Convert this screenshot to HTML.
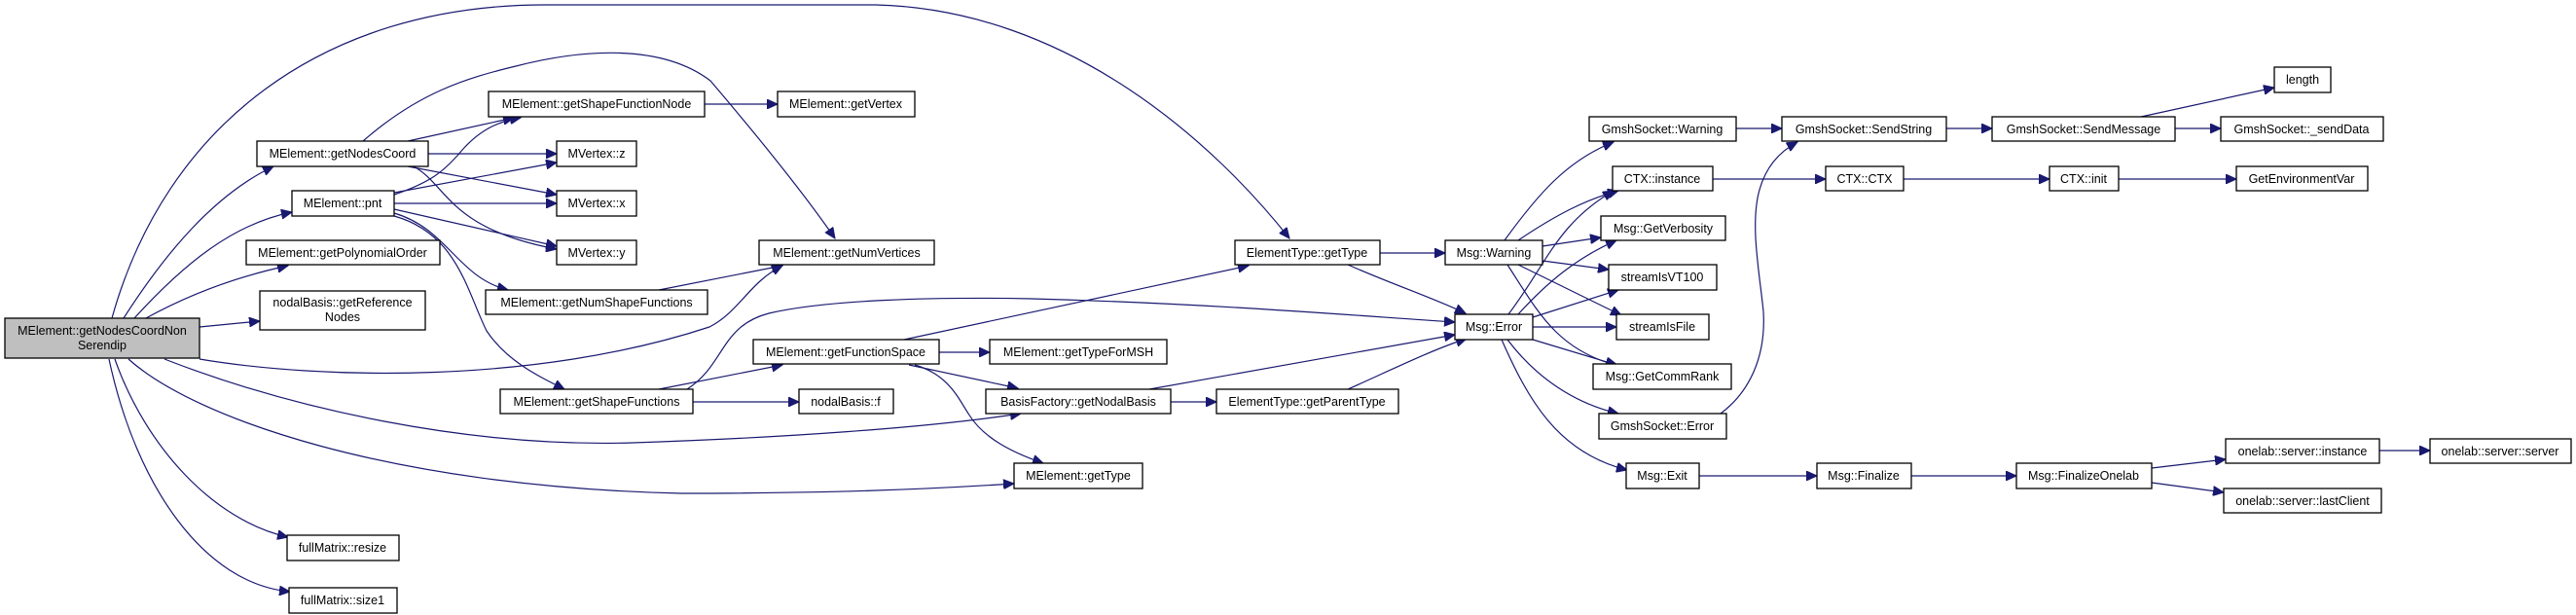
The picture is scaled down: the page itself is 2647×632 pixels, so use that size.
<!DOCTYPE html>
<html><head><meta charset="utf-8"><style>
html,body{margin:0;padding:0;background:#fff;}
svg{display:block;}
text{font-family:"Liberation Sans",Arial,sans-serif;font-size:12.5px;fill:#000;text-anchor:middle;}
.n{fill:#fff;stroke:#000;stroke-width:1.3;}
.e{fill:none;stroke:#191970;stroke-width:1.2;marker-end:url(#a);}
</style></head><body>
<svg width="2647" height="632" viewBox="0 0 2647 632" xmlns="http://www.w3.org/2000/svg">
<defs><marker id="a" markerUnits="userSpaceOnUse" markerWidth="12" markerHeight="10" refX="11" refY="5" orient="auto"><path d="M0,0 L11,5 L0,10 Z" fill="#191970" stroke="#191970"/></marker></defs>
<g>
<path class="e" d="M115,327 C170,130 330,5 560,5 L900,5 C1100,10 1250,150 1325,245"/>
<path class="e" d="M127,327 C170,260 220,200 281,171"/>
<path class="e" d="M138,327 C190,270 240,230 300,218"/>
<path class="e" d="M150,327 C190,305 240,285 296,273"/>
<path class="e" d="M205,336 L267,330"/>
<path class="e" d="M205,369 C330,390 550,395 729,336 C760,320 770,290 804,273"/>
<path class="e" d="M169,369 C300,420 480,460 650,455 C800,450 950,440 1049,425"/>
<path class="e" d="M132,369 C200,430 400,500 700,507 C850,507 950,503 1042,497"/>
<path class="e" d="M118,369 C150,460 220,535 296,552"/>
<path class="e" d="M112,369 C140,500 210,600 298,608"/>
<path class="e" d="M419,145 L528,121"/>
<path class="e" d="M440,158 L572,158"/>
<path class="e" d="M419,171 L572,200"/>
<path class="e" d="M425,171 C460,190 460,235 572,256"/>
<path class="e" d="M373,145 C430,95 480,80 530,68 C600,50 680,45 730,83 C770,130 820,190 858,245"/>
<path class="e" d="M405,200 C450,185 460,170 470,160 C490,135 510,125 535,121"/>
<path class="e" d="M405,198 L572,167"/>
<path class="e" d="M405,209 L572,209"/>
<path class="e" d="M405,215 L572,253"/>
<path class="e" d="M405,219 C460,235 470,285 522,298"/>
<path class="e" d="M405,222 C470,240 480,300 500,340 C520,370 550,385 580,400"/>
<path class="e" d="M677,298 L804,273"/>
<path class="e" d="M724,107 L799,107"/>
<path class="e" d="M677,400 L804,375"/>
<path class="e" d="M712,413 L821,413"/>
<path class="e" d="M706,400 C745,375 740,335 790,322 C850,308 960,305 1060,307 C1250,312 1400,325 1495,331"/>
<path class="e" d="M929,349 L1283,273"/>
<path class="e" d="M965,362 L1017,362"/>
<path class="e" d="M934,375 L1046,399"/>
<path class="e" d="M940,375 C975,385 985,410 995,425 C1010,450 1040,465 1072,476"/>
<path class="e" d="M1203,413 L1250,413"/>
<path class="e" d="M1181,400 L1495,344"/>
<path class="e" d="M1418,260 L1485,260"/>
<path class="e" d="M1385,272 C1430,292 1470,305 1506,322"/>
<path class="e" d="M1385,400 C1430,380 1470,360 1507,348"/>
<path class="e" d="M1546,247 C1580,200 1610,165 1658,146"/>
<path class="e" d="M1560,247 C1600,220 1630,205 1663,196"/>
<path class="e" d="M1585,253 L1645,244"/>
<path class="e" d="M1585,268 L1653,277"/>
<path class="e" d="M1560,272 L1666,324"/>
<path class="e" d="M1549,272 C1580,320 1600,360 1663,376"/>
<path class="e" d="M1550,323 C1590,270 1600,230 1658,196"/>
<path class="e" d="M1560,323 C1590,290 1620,265 1661,247"/>
<path class="e" d="M1575,326 L1663,298"/>
<path class="e" d="M1575,336 L1661,336"/>
<path class="e" d="M1575,349 L1661,375"/>
<path class="e" d="M1549,349 C1580,390 1620,415 1663,425"/>
<path class="e" d="M1543,349 C1570,410 1600,465 1672,483"/>
<path class="e" d="M1768,425 C1795,405 1815,370 1812,320 C1808,280 1798,230 1808,195 C1815,170 1830,155 1847,146"/>
<path class="e" d="M1784,132 L1831,132"/>
<path class="e" d="M1760,184 L1876,184"/>
<path class="e" d="M1956,184 L2106,184"/>
<path class="e" d="M2177,184 L2298,184"/>
<path class="e" d="M2000,132 L2047,132"/>
<path class="e" d="M2235,132 L2282,132"/>
<path class="e" d="M2200,120 L2337,90"/>
<path class="e" d="M1746,489 L1867,489"/>
<path class="e" d="M1964,489 L2072,489"/>
<path class="e" d="M2211,481 L2287,472"/>
<path class="e" d="M2211,496 L2285,506"/>
<path class="e" d="M2445,463 L2497,463"/>
</g>
<g>
<rect x="5" y="327" width="200" height="41" fill="#bfbfbf" stroke="#000" stroke-width="1.3"/>
<text x="105" y="344">MElement::getNodesCoordNon</text><text x="105" y="359">Serendip</text>
<rect class="n" x="264" y="145" width="176" height="26"/><text x="352" y="162">MElement::getNodesCoord</text>
<rect class="n" x="300" y="196" width="105" height="26"/><text x="352" y="213">MElement::pnt</text>
<rect class="n" x="253" y="247" width="199" height="25"/><text x="352" y="264">MElement::getPolynomialOrder</text>
<rect class="n" x="267" y="299" width="170" height="40"/><text x="352" y="315">nodalBasis::getReference</text><text x="352" y="330">Nodes</text>
<rect class="n" x="295" y="550" width="115" height="26"/><text x="352" y="567">fullMatrix::resize</text>
<rect class="n" x="297" y="604" width="111" height="26"/><text x="352" y="621">fullMatrix::size1</text>
<rect class="n" x="502" y="94" width="222" height="26"/><text x="613" y="111">MElement::getShapeFunctionNode</text>
<rect class="n" x="572" y="145" width="82" height="26"/><text x="613" y="162">MVertex::z</text>
<rect class="n" x="572" y="196" width="82" height="26"/><text x="613" y="213">MVertex::x</text>
<rect class="n" x="572" y="247" width="82" height="25"/><text x="613" y="264">MVertex::y</text>
<rect class="n" x="499" y="298" width="228" height="25"/><text x="613" y="315">MElement::getNumShapeFunctions</text>
<rect class="n" x="514" y="400" width="198" height="25"/><text x="613" y="417">MElement::getShapeFunctions</text>
<rect class="n" x="799" y="94" width="141" height="26"/><text x="869" y="111">MElement::getVertex</text>
<rect class="n" x="780" y="247" width="180" height="25"/><text x="870" y="264">MElement::getNumVertices</text>
<rect class="n" x="774" y="349" width="191" height="25"/><text x="869" y="366">MElement::getFunctionSpace</text>
<rect class="n" x="821" y="400" width="97" height="25"/><text x="869" y="417">nodalBasis::f</text>
<rect class="n" x="1269" y="247" width="149" height="25"/><text x="1343" y="264">ElementType::getType</text>
<rect class="n" x="1485" y="247" width="100" height="25"/><text x="1535" y="264">Msg::Warning</text>
<rect class="n" x="1495" y="323" width="80" height="26"/><text x="1535" y="340">Msg::Error</text>
<rect class="n" x="1017" y="349" width="182" height="25"/><text x="1108" y="366">MElement::getTypeForMSH</text>
<rect class="n" x="1013" y="400" width="190" height="25"/><text x="1108" y="417">BasisFactory::getNodalBasis</text>
<rect class="n" x="1250" y="400" width="187" height="25"/><text x="1343" y="417">ElementType::getParentType</text>
<rect class="n" x="1042" y="476" width="132" height="26"/><text x="1108" y="493">MElement::getType</text>
<rect class="n" x="1633" y="120" width="151" height="25"/><text x="1708" y="137">GmshSocket::Warning</text>
<rect class="n" x="1657" y="171" width="103" height="25"/><text x="1708" y="188">CTX::instance</text>
<rect class="n" x="1645" y="222" width="128" height="25"/><text x="1709" y="239">Msg::GetVerbosity</text>
<rect class="n" x="1653" y="272" width="111" height="26"/><text x="1708" y="289">streamIsVT100</text>
<rect class="n" x="1661" y="323" width="95" height="26"/><text x="1708" y="340">streamIsFile</text>
<rect class="n" x="1637" y="374" width="142" height="26"/><text x="1708" y="391">Msg::GetCommRank</text>
<rect class="n" x="1643" y="425" width="131" height="26"/><text x="1708" y="442">GmshSocket::Error</text>
<rect class="n" x="1671" y="476" width="75" height="26"/><text x="1708" y="493">Msg::Exit</text>
<rect class="n" x="2337" y="69" width="58" height="26"/><text x="2366" y="86">length</text>
<rect class="n" x="1831" y="120" width="169" height="25"/><text x="1915" y="137">GmshSocket::SendString</text>
<rect class="n" x="2047" y="120" width="188" height="25"/><text x="2141" y="137">GmshSocket::SendMessage</text>
<rect class="n" x="2282" y="120" width="167" height="25"/><text x="2365" y="137">GmshSocket::_sendData</text>
<rect class="n" x="1876" y="171" width="80" height="25"/><text x="1916" y="188">CTX::CTX</text>
<rect class="n" x="2106" y="171" width="71" height="25"/><text x="2141" y="188">CTX::init</text>
<rect class="n" x="2298" y="171" width="135" height="25"/><text x="2365" y="188">GetEnvironmentVar</text>
<rect class="n" x="1867" y="476" width="97" height="26"/><text x="1915" y="493">Msg::Finalize</text>
<rect class="n" x="2072" y="476" width="139" height="26"/><text x="2141" y="493">Msg::FinalizeOnelab</text>
<rect class="n" x="2287" y="451" width="158" height="25"/><text x="2366" y="468">onelab::server::instance</text>
<rect class="n" x="2497" y="451" width="145" height="25"/><text x="2569" y="468">onelab::server::server</text>
<rect class="n" x="2285" y="502" width="162" height="25"/><text x="2366" y="519">onelab::server::lastClient</text>
</g>
</svg>
</body></html>
